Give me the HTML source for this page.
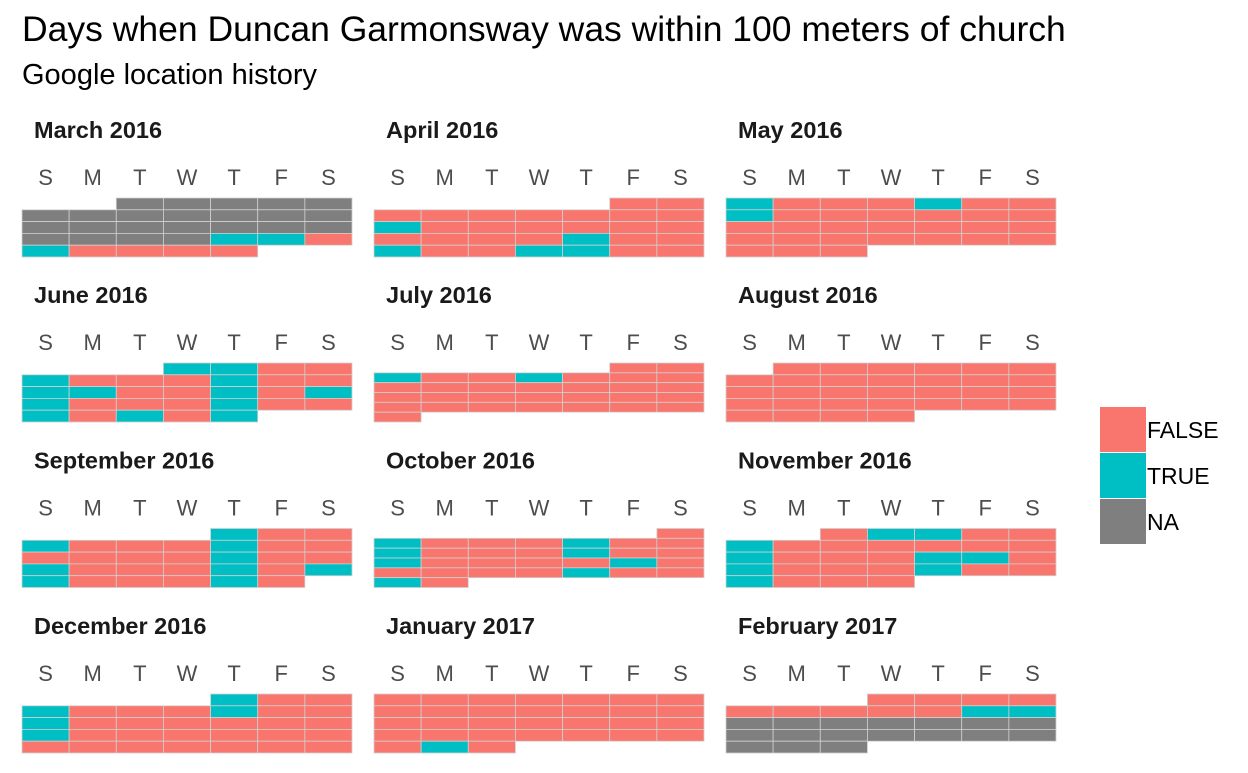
<!DOCTYPE html>
<html><head><meta charset="utf-8"><style>
body{margin:0;background:#fff;width:1248px;height:768px;overflow:hidden;font-family:"Liberation Sans",sans-serif}
</style></head><body>
<svg id="chart" width="1248" height="768" xmlns="http://www.w3.org/2000/svg" font-family="Liberation Sans, sans-serif">
<text x="22" y="41" font-size="35.5" fill="#000">Days when Duncan Garmonsway was within 100 meters of church</text>
<text x="22" y="84" font-size="29" fill="#000">Google location history</text>
<g id="panels"></g>
<g id="legend"></g>
</svg>
<script>
const months = ["March 2016","April 2016","May 2016","June 2016","July 2016","August 2016","September 2016","October 2016","November 2016","December 2016","January 2017","February 2017"];
const startDow = [2,5,0,3,5,1,4,6,2,4,0,3];
const dayValues = [
 "NNNNN"+"NNNNNNN"+"NNNNNNN"+"NNNNTTF"+"TFFFF",
 "FF"+"FFFFFFF"+"TFFFFFF"+"FFFFTFF"+"TFFTTFF",
 "TFFFTFF"+"TFFFFFF"+"FFFFFFF"+"FFFFFFF"+"FFF",
 "TTFF"+"TFFFTFF"+"TTFFTFT"+"TFFFTFF"+"TFTFT",
 "FF"+"TFFTFFF"+"FFFFFFF"+"FFFFFFF"+"FFFFFFF"+"F",
 "FFFFFF"+"FFFFFFF"+"FFFFFFF"+"FFFFFFF"+"FFFF",
 "TFF"+"TFFFTFF"+"FFFFTFF"+"TFFFTFT"+"TFFFTF",
 "F"+"TFFFTFF"+"TFFFTFF"+"TFFFFTF"+"FFFFTFF"+"TF",
 "FTTFF"+"TFFFFFF"+"TFFFTTF"+"TFFFTFF"+"TFFF",
 "TFF"+"TFFFTFF"+"TFFFFFF"+"TFFFFFF"+"FFFFFFF",
 "FFFFFFF"+"FFFFFFF"+"FFFFFFF"+"FFFFFFF"+"FTF",
 "FFFF"+"FFFFFTT"+"NNNNNNN"+"NNNNNNN"+"NNN"
];
const dayLabels = ["S","M","T","W","T","F","S"];
const legendLabels = ["FALSE","TRUE","NA"];
const colors = {F:"#F8766D",T:"#00BFC4",N:"#7F7F7F"};
const legendKeys = ["F","T","N"];

const NS="http://www.w3.org/2000/svg";
const panelsG=document.getElementById('panels');
const panelX=[22,374,726], panelY=[198,363,528.5,694];
const pw=330, ph=59, cw=pw/7;
function mk(tag,attrs,parent){const e=document.createElementNS(NS,tag);for(const k in attrs)e.setAttribute(k,attrs[k]);parent.appendChild(e);return e;}
months.forEach((m,i)=>{
  const x0=panelX[i%3], y0=panelY[Math.floor(i/3)];
  const g=mk('g',{},panelsG);
  
  
  const t=mk('text',{x:x0+12,y:y0-60,'font-size':23.5,'font-weight':'bold',fill:'#1a1a1a'},g);
  t.textContent=m;
  
  
  dayLabels.forEach((d,j)=>{
    const l=mk('text',{x:x0+cw*(j+0.5),y:y0-13,'font-size':22,fill:'#4d4d4d','text-anchor':'middle'},g);
    l.textContent=d;
    
    
  });
  const vals=dayValues[i], sd=startDow[i];
  const weeks=Math.ceil((sd+vals.length)/7), rh=ph/weeks;
  for(let d=0;d<vals.length;d++){
    const p=sd+d, w=Math.floor(p/7), c=p%7;
    const r=mk('rect',{x:x0+c*cw,y:y0+w*rh,width:cw,height:rh,fill:colors[vals[d]],stroke:'#d0d0d0','stroke-width':0.8},g);
    
    
  }
});
const lg=document.getElementById('legend');
legendKeys.forEach((k,i)=>{
  const y=407+i*46;
  const r=mk('rect',{x:1100,y:y,width:46,height:45,fill:colors[k]},lg);
  
  
  const t=mk('text',{x:1147,y:y+31,'font-size':23,fill:'#000'},lg);
  t.textContent=legendLabels[i];
  
  
});
</script>
</body></html>
